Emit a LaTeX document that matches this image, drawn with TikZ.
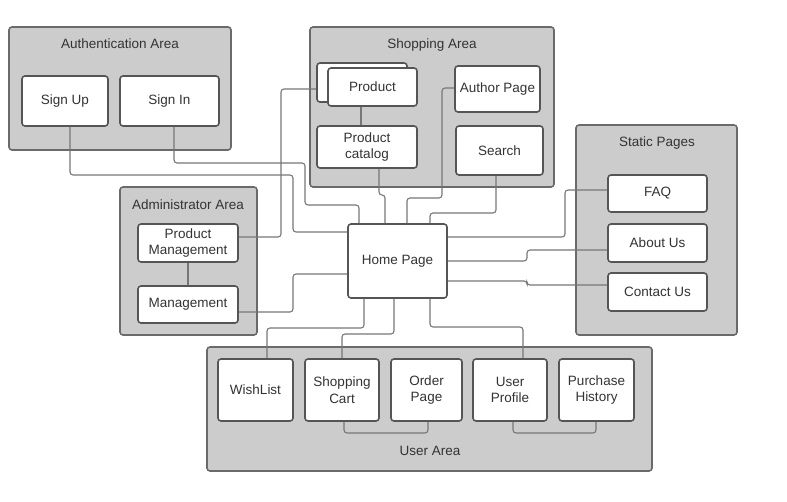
\documentclass[tikz,border=0pt]{standalone}
\usepackage{fontspec}
\setmainfont{Liberation Sans}
\definecolor{areafill}{HTML}{CCCCCC}
\definecolor{arealine}{HTML}{6A6A6A}
\definecolor{boxline}{HTML}{555555}
\definecolor{wireline}{HTML}{777777}
\definecolor{txt}{HTML}{333333}
\begin{document}
\begin{tikzpicture}[x=1pt, y=-1pt,
    area/.style={draw=arealine, fill=areafill, line width=1.6pt, rounded corners=3pt},
    areatitle/.style={text=txt, font=\fontsize{13.5}{16.5}\selectfont},
    page/.style={draw=boxline, fill=white, line width=1.6pt, rounded corners=3pt,
        inner sep=0pt, align=center, text=txt, font=\fontsize{13.5}{16.5}\selectfont},
    wire/.style={draw=wireline, line width=1.1pt, rounded corners=3pt}]
    \useasboundingbox (0, 0) rectangle (787, 502);
        \fill[white] (0, 0) rectangle (787, 502);
        % areas
        \draw[area] (9, 27) rectangle (231, 150);
        \draw[area] (310, 27) rectangle (554, 187);
        \draw[area] (120, 187) rectangle (257, 335);
        \draw[area] (576, 125) rectangle (737, 335);
        \draw[area] (207, 347) rectangle (652, 471);
        \node[areatitle] (authtitle) at (120, 44) {Authentication Area};
        \node[areatitle] (shoptitle) at (432, 45) {Shopping Area};
        \node[areatitle] (admintitle) at (188, 205) {Administrator Area};
        \node[areatitle] (statictitle) at (657, 143) {Static Pages};
        \node[areatitle] (usertitle) at (430, 451) {User Area};
        % pages
        \node[page, minimum width=86, minimum height=50] (signup) at (65, 101) {Sign Up};
        \node[page, minimum width=99, minimum height=50] (signin) at (169.5, 101) {Sign In};
        \node[page, minimum width=90, minimum height=39] (shadow) at (362, 82.5) {};
        \node[page, minimum width=89, minimum height=38] (product) at (372.5, 87) {Product};
        \node[page, minimum width=100, minimum height=42] (catalog) at (367, 147) {Product\\catalog};
        \node[page, minimum width=85, minimum height=46] (author) at (497.5, 89) {Author Page};
        \node[page, minimum width=87, minimum height=49] (search) at (499.5, 150.5) {Search};
        \node[page, minimum width=99, minimum height=37] (faq) at (657.5, 193.5) {FAQ};
        \node[page, minimum width=99, minimum height=38] (about) at (657.5, 243) {About Us};
        \node[page, minimum width=99, minimum height=38] (contact) at (657.5, 292) {Contact Us};
        \node[page, minimum width=100, minimum height=38] (prodmgmt) at (188, 243) {Product\\Management};
        \node[page, minimum width=100, minimum height=37] (mgmt) at (188, 304.5) {Management};
        \node[page, minimum width=99, minimum height=74] (home) at (397.5, 261) {Home Page};
        \node[page, minimum width=75, minimum height=62] (wishlist) at (255.5, 390) {WishList};
        \node[page, minimum width=74, minimum height=62] (cart) at (342, 390) {Shopping\\Cart};
        \node[page, minimum width=71, minimum height=62] (order) at (426.5, 390) {Order\\Page};
        \node[page, minimum width=74, minimum height=62] (profile) at (510, 390) {User\\Profile};
        \node[page, minimum width=75, minimum height=62] (history) at (596.5, 390) {Purchase\\History};
        % connectors
        \draw[wire] (signup.south -| 70, 0) |- (293, 175) |- (home.west |- 0, 232);
        \draw[wire] (signin.south -| 174, 0) |- (305, 163) |- (359, 205) -- (home.north -| 359, 0);
        \draw[wire] (shadow.west |- 0, 89) -| (281, 237) -- (prodmgmt.east |- 0, 237);
        \draw[wire] (product.south -| 361, 0) -- (catalog.north -| 361, 0);
        \draw[wire] (catalog.south -| 379, 0) |- (385, 195) -- (home.north -| 385, 0);
        \draw[wire] (author.west |- 0, 88) -| (442, 198) -| (home.north -| 407, 0);
        \draw[wire] (search.south -| 496, 0) |- (430, 213) -- (home.north -| 430, 0);
        \draw[wire] (home.east |- 0, 237) -| (565, 190) -- (faq.west |- 0, 190);
        \draw[wire] (home.east |- 0, 261) -| (527, 250) -- (about.west |- 0, 250);
        \draw[wire] (home.east |- 0, 281) -| (527, 285) -- (contact.west |- 0, 285);
        \draw[wire] (prodmgmt.south) -- (mgmt.north);
        \draw[wire] (mgmt.east |- 0, 312) -| (293, 274) -- (home.west |- 0, 274);
        \draw[wire] (home.south -| 364, 0) |- (267, 328) -- (wishlist.north -| 267, 0);
        \draw[wire] (home.south -| 394, 0) |- (342, 334) -- (cart.north -| 342, 0);
        \draw[wire] (home.south -| 430, 0) |- (523, 327) -- (profile.north -| 523, 0);
        \draw[wire] (cart.south -| 344, 0) |- (428, 433) -- (order.south -| 428, 0);
        \draw[wire] (profile.south -| 513, 0) |- (596, 433) -- (history.south -| 596, 0);
\end{tikzpicture}
\end{document}
